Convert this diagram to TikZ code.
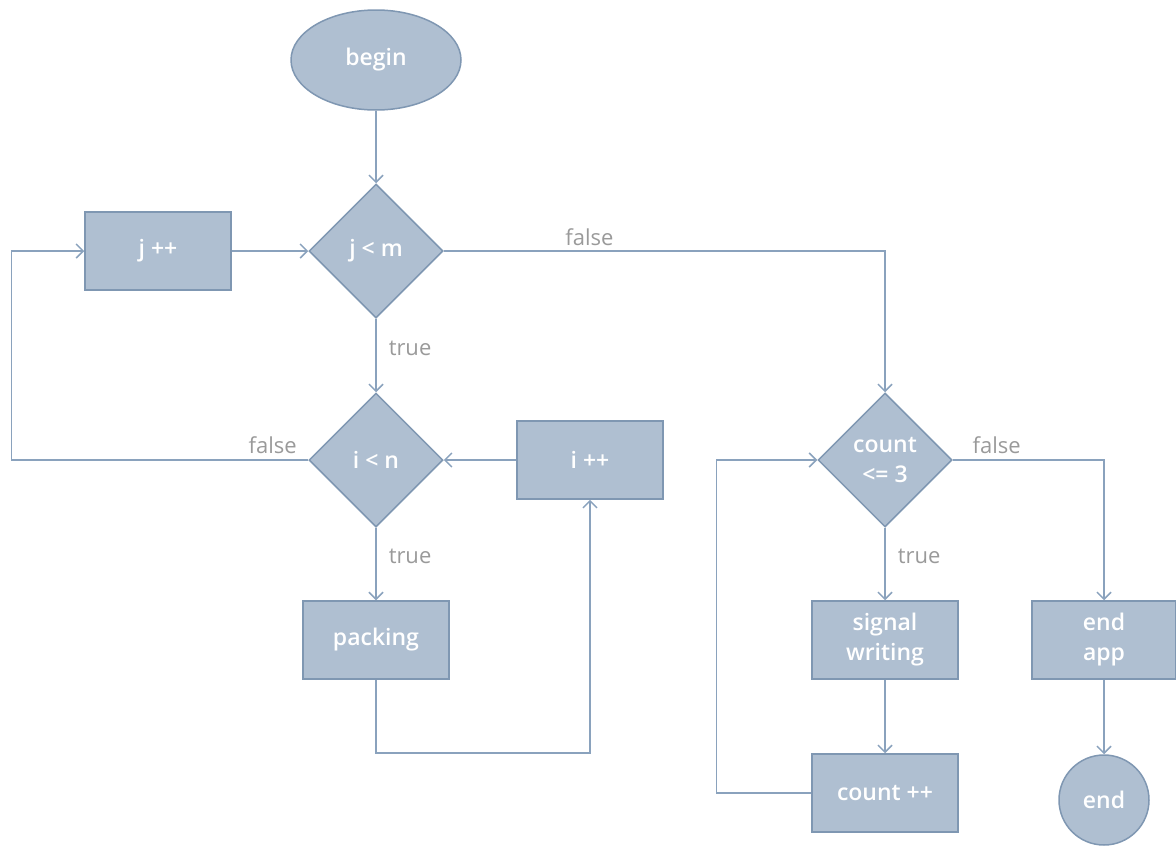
\documentclass[tikz,border=0pt]{standalone}
\usepackage{fontspec}
\setmainfont{Open Sans}
\newfontfamily\semibold{Open Sans Semibold}
\usetikzlibrary{shapes.geometric,positioning,calc,arrows.meta}

\definecolor{nodefill}{HTML}{AFBFD1}
\definecolor{nodeline}{HTML}{7F97B2}
\definecolor{flowline}{HTML}{8AA2BD}
\definecolor{lblgray}{HTML}{9A9A9A}

\tikzset{
  nodetext/.style={text=white, font=\fontsize{23}{30}\selectfont\semibold, align=center},
  box/.style={rectangle, draw=nodeline, fill=nodefill, line width=1.5pt, minimum width=146pt, minimum height=78pt, nodetext},
  decision/.style={diamond, draw=nodeline, fill=nodefill, line width=1.5pt, minimum width=134pt, minimum height=134pt, inner sep=0pt, nodetext},
  terminal/.style={ellipse, draw=nodeline, fill=nodefill, line width=1.5pt, nodetext},
  flow/.style={draw=flowline, line width=1.5pt, -{Straight Barb[length=7pt, width=14pt, line width=1.5pt]}},
  lbl/.style={text=lblgray, font=\fontsize{22}{26}\selectfont, inner sep=2pt}
}

\begin{document}
\begin{tikzpicture}[x=1pt, y=-1pt]
  \useasboundingbox (0,0) rectangle (1176,846);

  % nodes
  \node[terminal, minimum width=170pt, minimum height=100pt] (begin) at (376,60) {begin};
  \node[decision] (jm) at (376,251) {j < m};
  \node[box] (jpp) at (158,251) {j ++};
  \node[decision] (in) at (376,460) {i < n};
  \node[box] (ipp) at (590,460) {i ++};
  \node[box] (pack) at (376,640) {packing};
  \node[decision] (cnt) at (885,460) {count\\<= 3};
  \node[box] (sigw) at (885,640) {signal\\writing};
  \node[box] (cntpp) at (885,793) {count ++};
  \node[box, minimum width=144pt] (endapp) at (1104,640) {end\\app};
  \node[terminal, circle, minimum size=90pt, inner sep=0pt] (end) at (1104,800) {end};

  % connectors
  \draw[flow] (begin) -- (jm);
  \draw[flow] (jpp) -- (jm);
  \draw[flow] (jm) -- node[lbl, pos=0.4, right=10pt] {true} (in);
  \draw[flow] (jm.east) -| node[lbl, pos=0.165, above=3pt] {false} (cnt.north);
  \draw[flow] (in.west) -- node[lbl, pos=0.12, above=4pt] {false} ++(-297,0) |- (jpp.west);
  \draw[flow] (in) -- node[lbl, pos=0.4, right=10pt] {true} (pack);
  \draw[flow] (pack.south) -- ++(0,73) -| (ipp.south);
  \draw[flow] (ipp) -- (in);
  \draw[flow] (cnt.east) -| node[lbl, pos=0.145, above=4pt] {false} (endapp.north);
  \draw[flow] (cnt) -- node[lbl, pos=0.4, right=10pt] {true} (sigw);
  \draw[flow] (sigw) -- (cntpp);
  \draw[flow] (cntpp.west) -- ++(-95,0) |- (cnt.west);
  \draw[flow] (endapp) -- (end);
\end{tikzpicture}
\end{document}
